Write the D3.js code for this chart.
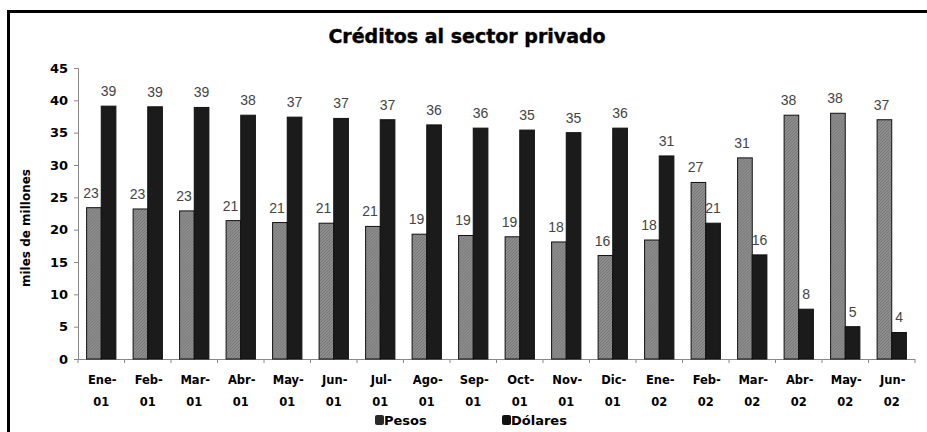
<!DOCTYPE html>
<html>
<head>
<meta charset="utf-8">
<script src="https://cdn.jsdelivr.net/npm/d3@7"></script>
<style>
  body { margin: 0; background: #fff; }
  svg { display: block; }
</style>
</head>
<body>
<div id="chart"></div>
<script>
'use strict';

var categories = ['Ene-01', 'Feb-01', 'Mar-01', 'Abr-01', 'May-01', 'Jun-01', 'Jul-01', 'Ago-01', 'Sep-01',
    'Oct-01', 'Nov-01', 'Dic-01', 'Ene-02', 'Feb-02', 'Mar-02', 'Abr-02', 'May-02', 'Jun-02'];
var pesos = [23.4, 23.2, 22.9, 21.4, 21.1, 21.0, 20.5, 19.3, 19.1, 18.9, 18.1, 16.0, 18.4, 27.3, 31.1, 37.7, 38.0, 37.0];
var dolares = [39.1, 39.0, 38.9, 37.7, 37.4, 37.2, 37.0, 36.2, 35.7, 35.4, 35.0, 35.7, 31.4, 21.0, 16.1, 7.7, 5.0, 4.1];
var seriesNames = ['Pesos', 'Dólares'];
var yTicks = [0, 5, 10, 15, 20, 25, 30, 35, 40, 45];

var width = 927, height = 432;
var plotLeft = 78, plotRight = 915, plotTop = 68, plotBottom = 359;

var svg = d3.select('#chart').append('svg')
    .attr('width', width)
    .attr('height', height);

// hatched grey for pesos
var defs = svg.append('defs');
var pat = defs.append('pattern')
    .attr('id', 'hatch')
    .attr('patternUnits', 'userSpaceOnUse')
    .attr('width', 3).attr('height', 3);
pat.append('rect').attr('width', 3).attr('height', 3).attr('fill', '#8e8e8e');
pat.append('path').attr('d', 'M0 3 L3 0').attr('stroke', '#6f6f6f').attr('stroke-width', 0.8);

// frame
svg.append('line').attr('x1', 8).attr('x2', width).attr('y1', 11.5).attr('y2', 11.5)
    .attr('stroke', '#000').attr('stroke-width', 3);
svg.append('line').attr('x1', 8.5).attr('x2', 8.5).attr('y1', 10).attr('y2', height)
    .attr('stroke', '#000').attr('stroke-width', 3);

svg.append('text')
    .attr('x', 467).attr('y', 43)
    .attr('text-anchor', 'middle')
    .style('font-family', 'DejaVu Sans')
    .style('font-weight', 'bold')
    .style('font-size', '19px')
    .attr('stroke', '#000').attr('stroke-width', 0.4)
    .text('Créditos al sector privado');

var x = d3.scaleBand().domain(categories).range([plotLeft, plotRight])
    .paddingInner(0.37).paddingOuter(0.185);
var xSub = d3.scaleBand().domain(seriesNames).range([0, x.bandwidth()]);
var y = d3.scaleLinear().domain([0, 45]).range([plotBottom, plotTop]);

// axes
var yAxis = svg.append('g')
    .attr('transform', 'translate(' + plotLeft + ',0)')
    .call(d3.axisLeft(y).tickValues(yTicks).tickSize(4).tickPadding(6));
yAxis.select('.domain').attr('stroke', '#888');
yAxis.selectAll('.tick line').attr('stroke', '#888');
yAxis.selectAll('text')
    .style('font-family', 'DejaVu Sans')
    .style('font-weight', 'bold')
    .style('font-size', '13px')
    .attr('fill', '#000');

var step = x.step();
var bottom = svg.append('g');
bottom.append('line')
    .attr('x1', plotLeft).attr('x2', plotRight)
    .attr('y1', plotBottom + 0.5).attr('y2', plotBottom + 0.5)
    .attr('stroke', '#888');
bottom.selectAll('.xtick')
    .data(d3.range(categories.length + 1))
    .enter().append('line')
    .attr('class', 'xtick')
    .attr('x1', function (i) { return plotLeft + i * step; })
    .attr('x2', function (i) { return plotLeft + i * step; })
    .attr('y1', plotBottom).attr('y2', plotBottom + 4)
    .attr('stroke', '#888');

var catLabels = svg.append('g').selectAll('text')
    .data(categories)
    .enter().append('text')
    .attr('text-anchor', 'middle')
    .style('font-family', 'DejaVu Sans')
    .style('font-weight', 'bold')
    .style('font-size', '11.5px')
    .attr('transform', function (d) {
        return 'translate(' + (x(d) + x.bandwidth() / 2) + ',384)';
    });
catLabels.append('tspan').attr('x', 0).attr('dx', 1).text(function (d) { return d.split('-')[0] + '-'; });
catLabels.append('tspan').attr('x', 0).attr('dy', 22).text(function (d) { return d.split('-')[1]; });

svg.append('text')
    .attr('transform', 'translate(30,228) rotate(-90)')
    .attr('text-anchor', 'middle')
    .style('font-family', 'DejaVu Sans')
    .style('font-weight', 'bold')
    .style('font-size', '12px')
    .text('miles de millones');

// bars
var rows = categories.map(function (c, i) {
    return {cat: c, values: [{key: 'Pesos', v: pesos[i]}, {key: 'Dólares', v: dolares[i]}]};
});

var groups = svg.append('g').selectAll('g')
    .data(rows)
    .enter().append('g')
    .attr('transform', function (d) { return 'translate(' + x(d.cat) + ',0)'; });

groups.selectAll('rect')
    .data(function (d) { return d.values; })
    .enter().append('rect')
    .attr('x', function (d) { return xSub(d.key); })
    .attr('width', xSub.bandwidth())
    .attr('y', function (d) { return y(d.v); })
    .attr('height', function (d) { return plotBottom - y(d.v); })
    .attr('fill', function (d) { return d.key === 'Pesos' ? 'url(#hatch)' : '#1b1b1b'; })
    .attr('stroke', '#111')
    .attr('stroke-width', 1);

groups.selectAll('.lbl')
    .data(function (d) { return d.values; })
    .enter().append('text')
    .attr('class', 'lbl')
    .attr('x', function (d) { return xSub(d.key) + xSub.bandwidth() / 2 + (d.key === 'Pesos' ? -3 : 0); })
    .attr('y', function (d) { return y(d.v) - 10; })
    .attr('text-anchor', 'middle')
    .style('font-family', 'Liberation Sans')
    .style('font-size', '14px')
    .attr('fill', '#444')
    .text(function (d) { return Math.round(d.v); });

// legend
var legend = svg.append('g').selectAll('g')
    .data(seriesNames)
    .enter().append('g')
    .attr('transform', function (d, i) { return 'translate(' + (375 + i * 127) + ',415)'; });
legend.append('rect')
    .attr('width', 9).attr('height', 10).attr('rx', 2)
    .attr('fill', function (d) { return d === 'Pesos' ? '#2a2a2a' : '#111'; });
legend.append('text')
    .attr('x', 9).attr('y', 10)
    .style('font-family', 'DejaVu Sans')
    .style('font-weight', 'bold')
    .style('font-size', '13px')
    .text(function (d) { return d; });
</script>
</body>
</html>
